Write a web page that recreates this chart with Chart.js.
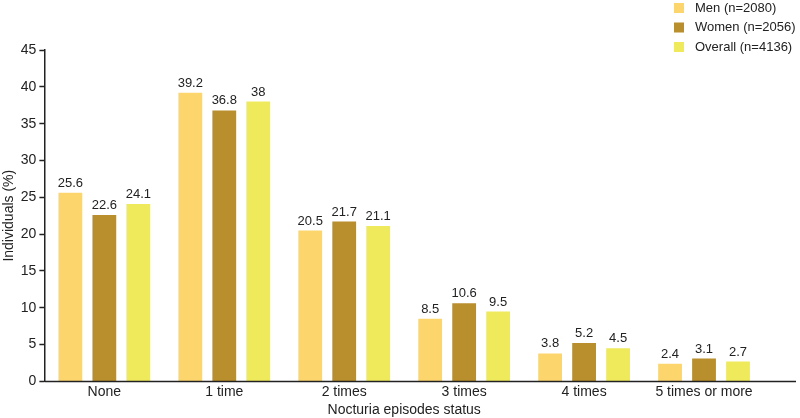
<!DOCTYPE html>
<html>
<head>
<meta charset="utf-8">
<script src="https://cdn.jsdelivr.net/npm/chart.js@4"></script>
<style>
  html, body { margin: 0; padding: 0; background: #fff; }
  #wrap { width: 800px; height: 418px; position: relative; }
</style>
</head>
<body>
<div id="wrap"><canvas id="c"></canvas></div>
<script>
const categories = ['None', '1 time', '2 times', '3 times', '4 times', '5 times or more'];
const menValues = [25.6, 39.2, 20.5, 8.5, 3.8, 2.4];
const womenValues = [22.6, 36.8, 21.7, 10.6, 5.2, 3.1];
const overallValues = [24.1, 38, 21.1, 9.5, 4.5, 2.7];
const seriesNames = ['Men (n=2080)', 'Women (n=2056)', 'Overall (n=4136)'];
const seriesColors = ['#fcd66c', '#b98e2c', '#eeea5c'];

const FONT = '"Liberation Sans", Arial, sans-serif';
Chart.defaults.font.family = FONT;
Chart.defaults.color = '#222';

// value labels above each bar
const barLabels = {
  id: 'barLabels',
  afterDatasetsDraw(chart) {
    const ctx = chart.ctx;
    ctx.save();
    ctx.font = '13px ' + FONT;
    ctx.fillStyle = '#222';
    ctx.textAlign = 'center';
    ctx.textBaseline = 'bottom';
    chart.data.datasets.forEach((ds, i) => {
      chart.getDatasetMeta(i).data.forEach((bar, j) => {
        ctx.fillText(String(ds.data[j]), bar.x, bar.y - 3);
      });
    });
    ctx.restore();
  }
};

// legend in the top right corner, stacked
const cornerLegend = {
  id: 'cornerLegend',
  afterDraw(chart) {
    const ctx = chart.ctx;
    ctx.save();
    ctx.font = '13px ' + FONT;
    ctx.textBaseline = 'middle';
    seriesNames.forEach((name, i) => {
      const y = 8 + i * 19.5;
      ctx.fillStyle = seriesColors[i];
      ctx.fillRect(674, y - 5, 10, 10);
      ctx.fillStyle = '#222';
      ctx.fillText(name, 695, y);
    });
    ctx.restore();
  }
};

// x axis line runs on past the last group
const baseLine = {
  id: 'baseLine',
  afterDraw(chart) {
    const ctx = chart.ctx;
    const y = chart.scales.y.getPixelForValue(0);
    ctx.save();
    ctx.strokeStyle = '#222';
    ctx.lineWidth = 1.5;
    ctx.beginPath();
    ctx.moveTo(chart.chartArea.left, y);
    ctx.lineTo(796, y);
    ctx.stroke();
    ctx.restore();
  }
};

new Chart(document.getElementById('c'), {
  type: 'bar',
  data: {
    labels: categories,
    datasets: [
      { label: seriesNames[0], data: menValues, backgroundColor: seriesColors[0] },
      { label: seriesNames[1], data: womenValues, backgroundColor: seriesColors[1] },
      { label: seriesNames[2], data: overallValues, backgroundColor: seriesColors[2] }
    ]
  },
  options: {
    responsive: true,
    maintainAspectRatio: false,
    animation: false,
    categoryPercentage: 0.85,
    barPercentage: 0.7,
    layout: { padding: { top: 50, right: 36, left: 1, bottom: -1 } },
    plugins: { legend: { display: false }, tooltip: { enabled: false } },
    scales: {
      x: {
        grid: { display: false, drawTicks: false },
        border: { display: false },
        ticks: { font: { size: 14 }, color: '#222', padding: 2, maxRotation: 0 },
        title: { display: true, text: 'Nocturia episodes status', font: { size: 14 }, color: '#222', padding: { top: 0, bottom: 0 } }
      },
      y: {
        min: 0,
        max: 45,
        ticks: { stepSize: 5, font: { size: 14 }, color: '#222', padding: 3 },
        grid: { display: true, drawOnChartArea: false, drawTicks: true, tickLength: 5, tickWidth: 1.5, color: '#222' },
        border: { display: true, color: '#222', width: 1.5 },
        title: { display: true, text: 'Individuals (%)', font: { size: 14 }, color: '#222', padding: { top: 0, bottom: 0 } }
      }
    }
  },
  plugins: [barLabels, cornerLegend, baseLine]
});
</script>
</body>
</html>
